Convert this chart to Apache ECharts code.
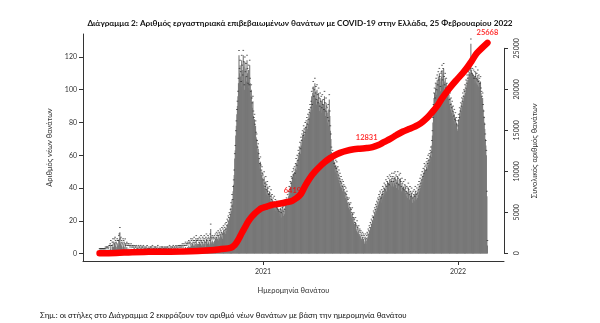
<!DOCTYPE html>
<html><head><meta charset="utf-8">
<script src="https://cdn.jsdelivr.net/npm/echarts@6/dist/echarts.min.js"></script>
<style>html,body{margin:0;padding:0;background:#fff}#c{width:600px;height:323px}</style>
</head><body><div id="c"></div><script>
// Daily new deaths by date of death (one array per month, from day 1)
const d2020_03 = [0,0,0,0,0,0,0,0,0,0,0,1,0,1,1,1,0,1,2,2,3,5,2,2,4,6,4,3,6,7,5];
const d2020_04 = [4,3,6,5,5,8,9,13,6,7,5,4,3,6,5,4,3,6,2,3,4,2,3,2,3,2,1,2,3,1];
const d2020_05 = [2,1,2,1,0,2,1,1,2,0,1,0,2,1,1,0,2,1,0,1,1,2,0,1,0,1,0,1,2,0,0];
const d2020_06 = [1,0,0,1,1,0,1,2,0,0,1,0,1,1,0,0,1,2,0,0,1,0,0,1,0,1,1,0,0,1];
const d2020_07 = [0,1,0,1,0,1,1,0,0,2,1,0,1,0,1,1,2,0,1,1,0,2,1,1,0,2,1,2,1,2,1];
const d2020_08 = [2,1,3,2,1,3,2,2,4,3,2,3,4,3,5,4,3,4,6,5,3,6,4,5,7,5,4,6,8,5,6];
const d2020_09 = [5,6,4,7,5,6,8,5,4,7,6,5,8,6,4,7,9,5,6,8,7,6,5,9,15,7,6,8,7,6];
const d2020_10 = [7,8,6,9,7,10,8,9,11,8,10,9,12,11,10,13,9,12,14,11,13,15,12,16,14,18,17,20,19,22,21];
const d2020_11 = [24,28,26,33,30,38,42,48,58,63,72,78,85,90,96,104,121,110,115,108,102,118,112,106,121,114,100,117,108,113];
const d2020_12 = [105,118,110,101,112,100,115,104,96,100,92,89,93,84,80,82,76,78,71,70,66,62,64,58,55,52,56,51,48,50,46];
const d2021_01 = [45,42,47,40,38,44,36,39,41,35,37,33,38,34,32,36,30,33,29,31,28,32,27,30,26,29,25,28,24,27,23];
const d2021_02 = [26,24,28,22,27,25,29,23,26,24,28,30,27,31,29,33,30,35,38,36,41,40,44,43,47,45,49,48];
const d2021_03 = [50,46,52,55,51,57,54,60,58,62,65,61,68,66,70,72,69,75,73,71,77,74,78,80,76,82,79,85,83,88,86];
const d2021_04 = [90,96,88,98,102,93,97,104,95,99,91,100,94,89,98,92,87,95,90,93,86,94,88,91,85,96,89,84,92,87];
const d2021_05 = [86,80,88,78,94,84,75,70,62,57,60,55,58,52,56,50,54,49,53,47,50,45,48,43,46,41,44,40,42,38,41];
const d2021_06 = [39,36,38,34,37,33,35,31,30,28,31,27,25,28,24,22,25,21,19,22,18,16,19,15,14,17,13,12,14,11];
const d2021_07 = [12,10,11,9,8,10,7,9,8,6,7,9,6,8,10,9,12,11,14,13,16,15,18,17,20,19,23,22,25,24,27];
const d2021_08 = [26,29,28,31,30,33,32,35,34,31,36,33,38,35,37,40,36,39,42,38,41,44,40,43,39,45,42,44,41,46,43];
const d2021_09 = [44,41,46,43,47,42,45,40,44,47,43,39,45,42,46,41,38,43,40,37,41,36,39,42,37,35,38,34,37,40];
const d2021_10 = [36,33,38,35,32,37,34,31,35,33,36,32,38,35,33,37,34,39,36,41,38,43,40,45,42,47,44,49,46,52,50];
const d2021_11 = [51,48,53,55,52,57,54,58,56,60,62,59,66,72,80,88,95,98,92,101,104,97,106,100,108,103,110,105,99,107];
const d2021_12 = [108,112,103,110,113,105,100,107,98,104,101,96,99,94,97,91,95,88,92,86,90,84,87,81,85,79,83,78,80,76,75];
const d2022_01 = [78,82,80,86,84,89,87,92,90,95,93,97,96,100,98,103,101,106,104,108,106,111,109,110,128,112,107,110,106,109,104];
const d2022_02 = [108,105,111,104,107,103,109,102,106,104,101,105,98,96,93,95,88,84,80,76,70,66,60,35,5];

const months = [
  [2020,3,d2020_03],[2020,4,d2020_04],[2020,5,d2020_05],[2020,6,d2020_06],[2020,7,d2020_07],
  [2020,8,d2020_08],[2020,9,d2020_09],[2020,10,d2020_10],[2020,11,d2020_11],[2020,12,d2020_12],
  [2021,1,d2021_01],[2021,2,d2021_02],[2021,3,d2021_03],[2021,4,d2021_04],[2021,5,d2021_05],
  [2021,6,d2021_06],[2021,7,d2021_07],[2021,8,d2021_08],[2021,9,d2021_09],[2021,10,d2021_10],
  [2021,11,d2021_11],[2021,12,d2021_12],[2022,1,d2022_01],[2022,2,d2022_02]
];

// Cumulative deaths
const cumDates = ['2020-03-01','2020-04-01','2020-05-01','2020-06-01','2020-07-01','2020-08-01','2020-09-01','2020-10-01','2020-10-15','2020-11-01','2020-11-09','2020-11-16','2020-11-22','2020-11-28','2020-12-04','2020-12-10','2020-12-17','2020-12-23','2020-12-29','2021-01-08','2021-01-17','2021-01-27','2021-02-05','2021-02-14','2021-02-25','2021-03-05','2021-03-13','2021-03-21','2021-03-30','2021-04-08','2021-04-17','2021-04-26','2021-05-06','2021-05-15','2021-05-25','2021-06-06','2021-06-20','2021-07-01','2021-07-14','2021-07-25','2021-08-05','2021-08-15','2021-08-27','2021-09-08','2021-09-20','2021-10-01','2021-10-12','2021-10-23','2021-11-03','2021-11-12','2021-11-22','2021-12-01','2021-12-11','2021-12-20','2021-12-29','2022-01-08','2022-01-17','2022-01-27','2022-02-05','2022-02-15','2022-02-25'];
const cumValues = [0,40,140,175,192,210,270,400,520,650,1010,1700,2440,3150,3850,4400,4880,5220,5490,5700,5890,6000,6100,6240,6419,6750,7250,8250,9200,9950,10560,11100,11590,11950,12250,12500,12680,12760,12831,12950,13200,13550,13950,14430,14850,15150,15450,15850,16460,17100,17880,18800,19710,20450,21130,21850,22560,23500,24390,25050,25668];
const labeledValues = [6419, 12831, 25668];

const leftTicks = [0,20,40,60,80,100,120];
const yearTicks = ['2021-01-01','2022-01-01'];

const ts = s => { const p = s.split('-').map(Number); return Date.UTC(p[0], p[1]-1, p[2]); };
const bars = [], dots = [];
months.forEach(([y,m,arr]) => arr.forEach((v,i) => {
  const t = Date.UTC(y, m-1, 1+i);
  bars.push([t, v]);
  dots.push([t, v + 3]);
}));
const cum = cumDates.map((d,i) => [ts(d), cumValues[i]]);
const labelPts = cum.filter(p => labeledValues.includes(p[1]));

const xMin = Date.UTC(2020,0,30), xMax = Date.UTC(2022,2,28);
const FONT = 'Lato';
const chart = echarts.init(document.getElementById('c'));
chart.setOption({
  animation: false,
  textStyle: {fontFamily: FONT},
  title: [
    {text: 'Διάγραμμα 2: Αριθμός εργαστηριακά επιβεβαιωμένων θανάτων με COVID-19 στην Ελλάδα, 25 Φεβρουαρίου 2022',
     left: 295, top: 14, textAlign: 'center',
     textStyle: {fontFamily: FONT, fontSize: 8.2, fontWeight: 'bold', color: '#111'}},
    {text: 'Σημ.: οι στήλες στο Διάγραμμα 2 εκφράζουν τον αριθμό νέων θανάτων με βάση την ημερομηνία θανάτου',
     left: 35, top: 306,
     textStyle: {fontFamily: FONT, fontSize: 7.8, fontWeight: 'normal', color: '#111'}}
  ],
  grid: [
    {left: 83, right: 96, top: 34, bottom: 62},
    {left: 83, right: 96, top: 48.3, bottom: 69.7}
  ],
  xAxis: [
    {type: 'value', gridIndex: 0, min: xMin, max: xMax, splitLine: {show: false},
     axisLine: {show: true, onZero: false, lineStyle: {color: '#333', width: 1}},
     axisTick: {show: true, length: 4, customValues: yearTicks.map(ts), lineStyle: {color: '#333'}},
     axisLabel: {customValues: yearTicks.map(ts), formatter: v => String(new Date(v).getUTCFullYear()),
                 fontSize: 7, color: '#333', margin: 7},
     name: 'Ημερομηνία θανάτου', nameLocation: 'middle', nameGap: 26,
     nameTextStyle: {fontSize: 7.5, color: '#333'}},
    {type: 'value', gridIndex: 1, min: xMin, max: xMax, show: false}
  ],
  yAxis: [
    {type: 'value', gridIndex: 0, min: -4.5, max: 134, splitLine: {show: false},
     axisLine: {show: true, lineStyle: {color: '#333', width: 1}},
     axisTick: {show: true, length: 4, customValues: leftTicks, lineStyle: {color: '#333'}},
     axisLabel: {customValues: leftTicks, fontSize: 7, color: '#333', margin: 6},
     name: 'Αριθμός νέων θανάτων', nameLocation: 'middle', nameRotate: 90, nameGap: 26,
     nameTextStyle: {fontSize: 7.5, color: '#333'}},
    {type: 'value', gridIndex: 1, position: 'right', min: 0, max: 25000, interval: 5000,
     splitLine: {show: false},
     axisLine: {show: true, lineStyle: {color: '#333', width: 1}},
     axisTick: {show: true, length: 4, lineStyle: {color: '#333'}},
     axisLabel: {rotate: 90, fontSize: 7, color: '#333', margin: 9, formatter: v => String(v)},
     name: 'Συνολικός αριθμός θανάτων', nameLocation: 'middle', nameRotate: 90, nameGap: 27,
     nameTextStyle: {fontSize: 7.5, color: '#333'}}
  ],
  series: [
    {type: 'bar', xAxisIndex: 0, yAxisIndex: 0, data: bars, barWidth: 1.1,
     itemStyle: {color: '#777777'}, silent: true},
    {type: 'scatter', xAxisIndex: 0, yAxisIndex: 0, data: dots, symbol: 'rect', symbolSize: [1.6, 1],
     itemStyle: {color: '#2a2a2a', opacity: 0.75}, silent: true},
    {type: 'line', xAxisIndex: 1, yAxisIndex: 1, data: cum, smooth: 0.4, showSymbol: false, clip: false,
     lineStyle: {color: '#ff0000', width: 6.5, cap: 'round', join: 'round'}, z: 5, silent: true},
    {type: 'scatter', xAxisIndex: 1, yAxisIndex: 1, data: labelPts, symbolSize: 1, clip: false,
     itemStyle: {color: 'rgba(0,0,0,0)'}, z: 6, silent: true,
     label: {show: true, position: 'top', distance: 6, formatter: p => String(p.value[1]),
             color: '#ff0000', fontWeight: 'bold', fontSize: 7.5, fontFamily: FONT}}
  ]
});
</script></body></html>
